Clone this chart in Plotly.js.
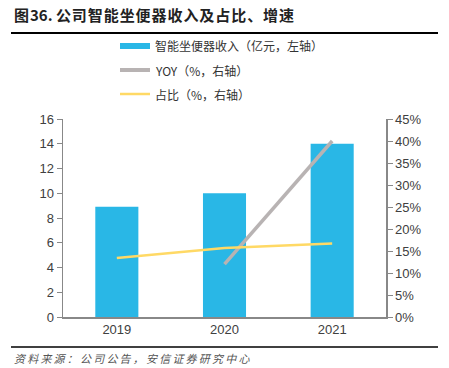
<!DOCTYPE html>
<html><head><meta charset="utf-8">
<script src="https://cdn.plot.ly/plotly-3.0.1.min.js"></script>
<style>body{margin:0;padding:0;background:#fff}#chart{width:449px;height:368px}</style>
</head><body><div id="chart"></div>
<script>
const years = ['2019', '2020', '2021'];
const revenue = [8.9, 10.0, 14.0];
const yoy = [null, 0.12, 0.40];
const share = [0.134, 0.157, 0.167];
const names = ['智能坐便器收入（亿元，左轴）', 'YOY（%，右轴）', '占比（%，右轴）'];
const colors = ['#29B7E6', '#B8B3B3', '#FFD965'];
const titleText = '图36. 公司智能坐便器收入及占比、增速';
const sourceText = '资料来源：公司公告，安信证券研究中心';

const font = 'Liberation Sans, Arial, Noto Sans CJK SC, sans-serif';
const cjk = 'Noto Sans CJK SC, sans-serif';
function spaced(s, sp) {
  return Array.from(s).map(c => /[\u3000-\u9fff\uff00-\uffef]/.test(c) ? c + sp : c).join('');
}

const traces = [
  {type: 'bar', x: years, y: revenue, marker: {color: colors[0]}, width: 0.4, name: names[0], showlegend: false, hoverinfo: 'skip'},
  {type: 'scatter', mode: 'lines', x: years, y: yoy, yaxis: 'y2', line: {color: colors[1], width: 3.5}, name: names[1], showlegend: false},
  {type: 'scatter', mode: 'lines', x: years, y: share, yaxis: 'y2', line: {color: colors[2], width: 2.5}, name: names[2], showlegend: false}
];

const legendY = [46, 70, 94];
const legendW = [6, 4, 2.5];
const shapes = [
  {type: 'line', xref: 'paper', yref: 'paper', x0: (11-63)/323, x1: (438-63)/323, y0: (317-33)/198, y1: (317-33)/198, line: {color: '#000', width: 2}},
  {type: 'line', xref: 'paper', yref: 'paper', x0: (11-63)/323, x1: (438-63)/323, y0: (317-347)/198, y1: (317-347)/198, line: {color: '#000', width: 1.5}}
];
const annotations = [
  {xref: 'paper', yref: 'paper', x: (12-63)/323, y: (317-14)/198, xanchor: 'left', yanchor: 'middle', text: '<b>' + spaced(titleText, '\u200A') + '</b>', showarrow: false, font: {family: cjk, size: 15, color: '#222'}},
  {xref: 'paper', yref: 'paper', x: (12-63)/323, y: (317-358)/198, xanchor: 'left', yanchor: 'middle', text: '<i>' + spaced(sourceText, '\u2009') + '</i>', showarrow: false, font: {family: cjk, size: 11, color: '#555'}}
];
for (let i = 0; i < 3; i++) {
  const yp = (317 - legendY[i]) / 198;
  shapes.push({type: 'line', xref: 'paper', yref: 'paper', x0: (120-63)/323, x1: (150-63)/323, y0: yp, y1: yp, line: {color: colors[i], width: legendW[i]}});
  annotations.push({xref: 'paper', yref: 'paper', x: (153-63)/323, y: yp, xanchor: 'left', yanchor: 'middle', text: names[i], showarrow: false, font: {family: cjk, size: 12, color: '#333'}});
}

const layout = {
  width: 449, height: 368,
  margin: {l: 63, r: 63, t: 119, b: 51, pad: 0},
  paper_bgcolor: '#fff', plot_bgcolor: '#fff',
  showlegend: false,
  font: {family: font, size: 13, color: '#404040'},
  xaxis: {type: 'category', showline: true, linecolor: '#888', linewidth: 1.5, ticks: '', tickfont: {size: 13, color: '#404040'}, showgrid: false, zeroline: false, fixedrange: true},
  yaxis: {range: [0, 16], dtick: 2, showline: true, linecolor: '#888', linewidth: 1.5, ticks: 'outside', ticklen: 5, tickcolor: '#888', showgrid: false, zeroline: false, tickfont: {size: 13, color: '#404040'}},
  yaxis2: {range: [0, 0.45], dtick: 0.05, tickformat: '.0%', overlaying: 'y', side: 'right', showline: true, linecolor: '#888', linewidth: 1.5, ticks: 'outside', ticklen: 5, tickcolor: '#888', showgrid: false, zeroline: false, tickfont: {size: 13, color: '#404040'}},
  shapes: shapes,
  annotations: annotations
};
Plotly.newPlot('chart', traces, layout, {displayModeBar: false, staticPlot: true});
</script></body></html>
